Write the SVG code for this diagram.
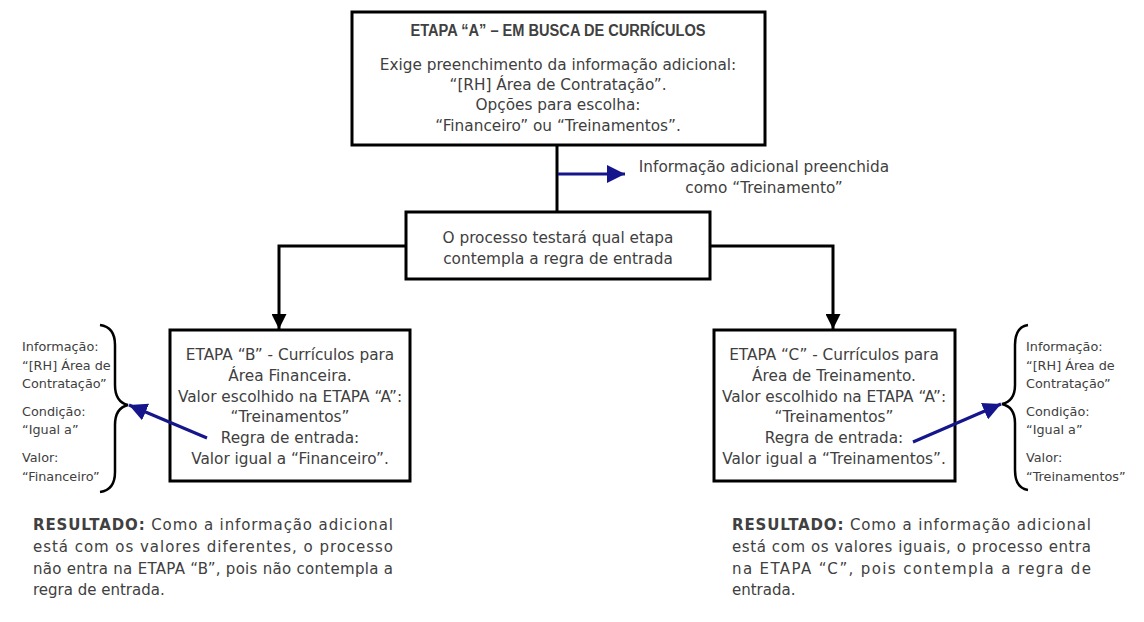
<svg xmlns="http://www.w3.org/2000/svg" width="1144" height="622" viewBox="0 0 1144 622">
<defs>
<style>
.box{fill:#fff;stroke:#000;stroke-width:3}
.ln{fill:none;stroke:#000;stroke-width:3}
.bl{fill:none;stroke:#16168c;stroke-width:3}
.br{fill:none;stroke:#000;stroke-width:2.5}
text{font-family:"DejaVu Sans","Liberation Sans",Arial,sans-serif;fill:#404040}
.t{font-size:15.3px;text-anchor:middle}
.s{font-size:12.8px}
.r{font-size:15px}
.b{font-weight:bold}
.h{font-family:"Liberation Sans",Arial,sans-serif;font-weight:bold;font-size:16px;text-anchor:middle}
</style>
<marker id="ah" viewBox="0 0 10 10" refX="10" refY="5" markerWidth="5" markerHeight="5" orient="auto" markerUnits="strokeWidth"><path d="M0,0L10,5L0,10z" fill="#000"/></marker>
<marker id="bh" viewBox="0 0 10 10" refX="10" refY="5" markerWidth="6" markerHeight="6" orient="auto" markerUnits="strokeWidth"><path d="M0,0L10,5L0,10z" fill="#16168c"/></marker>
</defs>
<rect width="1144" height="622" fill="#fff"/>
<g id="nodeA">
<rect class="box" x="352" y="12" width="413" height="133"/>
<text class="h" x="558" y="36" textLength="295" lengthAdjust="spacingAndGlyphs">ETAPA “A” – EM BUSCA DE CURRÍCULOS</text>
<text class="t" x="558" y="70">Exige preenchimento  da informação adicional:</text>
<text class="t" x="558" y="90">“[RH] Área de Contratação”.</text>
<text class="t" x="558" y="110">Opções para escolha:</text>
<text class="t" x="558" y="131">“Financeiro”  ou “Treinamentos”.</text>
</g>
<g id="label-info">
<text class="t" x="764" y="172">Informação adicional preenchida</text>
<text class="t" x="764" y="193">como “Treinamento”</text>
</g>
<g id="nodeTest">
<rect class="box" x="406" y="212" width="304" height="67"/>
<text class="t" x="558" y="243">O processo testará qual etapa</text>
<text class="t" x="558" y="264">contempla a regra de entrada</text>
</g>
<g id="nodeB">
<rect class="box" x="170" y="330" width="240" height="151"/>
<text class="t" x="290" y="360">ETAPA “B”  - Currículos para</text>
<text class="t" x="290" y="381">Área Financeira.</text>
<text class="t" x="290" y="402">Valor escolhido na ETAPA “A”:</text>
<text class="t" x="290" y="422">“Treinamentos”</text>
<text class="t" x="290" y="443">Regra de entrada:</text>
<text class="t" x="290" y="464">Valor igual a “Financeiro”.</text>
</g>
<g id="nodeC">
<rect class="box" x="714" y="330" width="241" height="151"/>
<text class="t" x="834" y="360">ETAPA “C”  - Currículos para</text>
<text class="t" x="834" y="381">Área de Treinamento.</text>
<text class="t" x="834" y="402">Valor escolhido na ETAPA “A”:</text>
<text class="t" x="834" y="422">“Treinamentos”</text>
<text class="t" x="834" y="443">Regra de entrada:</text>
<text class="t" x="834" y="464">Valor igual a “Treinamentos”.</text>
</g>
<g id="braceB">
<path class="br" d="M100,325 Q115,327 115,345 L115,385 Q115,402 128,405 Q115,408 115,425 L115,472 Q115,490 100,492"/>
<text class="s" x="22" y="351">Informação:</text>
<text class="s" x="22" y="370">“[RH] Área de</text>
<text class="s" x="22" y="388">Contratação”</text>
<text class="s" x="22" y="416">Condição:</text>
<text class="s" x="22" y="434">“Igual  a”</text>
<text class="s" x="22" y="462">Valor:</text>
<text class="s" x="22" y="481">“Financeiro”</text>
</g>
<g id="braceC">
<path class="br" d="M1028,325 Q1015,327 1015,345 L1015,385 Q1015,401 1002,404 Q1015,407 1015,423 L1015,470 Q1015,488 1028,490"/>
<text class="s" x="1026" y="351">Informação:</text>
<text class="s" x="1026" y="370">“[RH] Área de</text>
<text class="s" x="1026" y="388">Contratação”</text>
<text class="s" x="1026" y="416">Condição:</text>
<text class="s" x="1026" y="434">“Igual  a”</text>
<text class="s" x="1026" y="462">Valor:</text>
<text class="s" x="1026" y="481">“Treinamentos”</text>
</g>
<g id="resultB">
<text class="r" x="33" y="530" textLength="360" lengthAdjust="spacing"><tspan class="b">RESULTADO:</tspan> Como a informação adicional</text>
<text class="r" x="33" y="552" textLength="360" lengthAdjust="spacing">está com os valores diferentes, o processo</text>
<text class="r" x="33" y="574" textLength="360" lengthAdjust="spacing">não entra na ETAPA “B”, pois não contempla a</text>
<text class="r" x="33" y="595">regra de entrada.</text>
</g>
<g id="resultC">
<text class="r" x="732" y="530" textLength="359" lengthAdjust="spacing"><tspan class="b">RESULTADO:</tspan> Como a informação adicional</text>
<text class="r" x="732" y="552" textLength="359" lengthAdjust="spacing">está com os valores iguais, o processo entra</text>
<text class="r" x="732" y="574" textLength="359" lengthAdjust="spacing">na ETAPA “C”, pois contempla a regra de</text>
<text class="r" x="732" y="595">entrada.</text>
</g>
<g id="connectors">
<line class="ln" x1="557" y1="146" x2="557" y2="211"/>
<line class="bl" x1="558" y1="174" x2="625" y2="174" marker-end="url(#bh)"/>
<polyline class="ln" points="405,246 279,246 279,329" marker-end="url(#ah)"/>
<polyline class="ln" points="711,246 833,246 833,329" marker-end="url(#ah)"/>
<line class="bl" x1="207" y1="438" x2="129" y2="405" marker-end="url(#bh)"/>
<line class="bl" x1="913" y1="442" x2="1001" y2="404" marker-end="url(#bh)"/>
</g>
</svg>
